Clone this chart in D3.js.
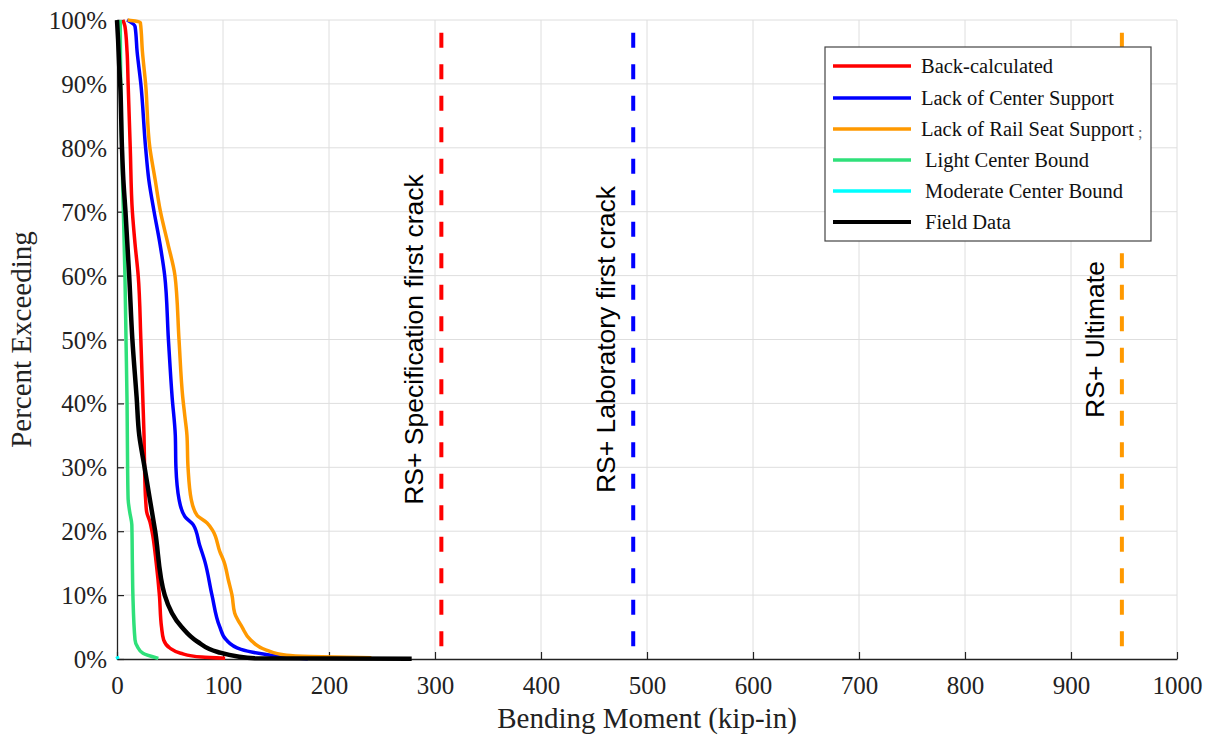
<!DOCTYPE html>
<html>
<head>
<meta charset="utf-8">
<script src="https://cdn.jsdelivr.net/npm/d3@7"></script>
<style>
  body { margin: 0; background: #fff; }
  svg { display: block; }
</style>
</head>
<body>
<svg id="chart" width="1211" height="738"></svg>
<script>
// series: [moment (kip-in), percent exceeding]
const backCalculated = [[5.5,100],[7.5,99],[9.5,95],[10.5,90],[12.5,80],[14.5,70],[17,65],[20,60],[22.5,50],[24.5,40],[25.5,35],[26,30],[27,25],[28,23],[31,21.5],[33,20],[37,15],[40,10],[42,5],[44,3],[50,1.7],[60,0.9],[80,0.3],[102,0.1]];
const lackCenter = [[9.5,100],[17,99],[19,95],[22.5,90],[27,80],[30,75],[35,70],[40.5,65],[45,60],[48.5,50],[52,41],[55,35],[55.6,30],[58.5,25],[64,22.3],[72,21],[78,17.8],[83,15.2],[89.6,10],[97,5],[103,3],[117,1.5],[145,0.6],[165,0.2],[180,0.05]];
const lackRailSeat = [[10,100],[22,99.6],[24,95],[27,90],[31,80],[36,75],[41,70],[48,65],[54.7,60],[58.5,50],[62,41],[64,38],[66,35],[67,30],[70,25],[75.5,22.5],[85,21.3],[90.6,20],[97,16.8],[101,15.2],[105,12.4],[108.5,10],[111,7.2],[118,5],[126,3],[141,1.4],[160,0.6],[182,0.4],[240,0.2]];
const lightCenter = [[3,100],[3.5,90],[4.5,80],[6,70],[7.5,60],[8.5,50],[9.5,40],[10,30],[10.5,25],[12,23],[14,21],[14.5,15],[15,10],[17,3],[19,2],[24.5,0.9],[39,0.1]];
const moderateCenter = [[0,0.4],[1,0]];
const fieldData = [[0,100],[1,97],[2,93],[3,90],[4.7,80],[6,75],[8,70],[11.5,60],[14.5,50],[18.5,41],[21,35],[26,30],[31,25],[36,20],[45,10],[61,5],[76,2.7],[95,1.1],[114,0.4],[130,0.1],[278,0.05]];

const seriesNames = ["Back-calculated", "Lack of Center Support", "Lack of Rail Seat Support", "Light Center Bound", "Moderate Center Bound", "Field Data"];
const seriesColors = ["#ff0000", "#0000ff", "#ff9900", "#2fe07a", "#00ffff", "#000000"];

// reference limits (kip-in)
const limitValues = [306, 487, 948];
const limitLabels = ["RS+ Specification first crack", "RS+ Laboratory first crack", "RS+ Ultimate"];
const limitColors = ["#ff0000", "#0000ff", "#ff9900"];

const xTicks = [0,100,200,300,400,500,600,700,800,900,1000];
const yTicks = [0,10,20,30,40,50,60,70,80,90,100];

const serif = "'Liberation Serif', 'Times New Roman', serif";
const sans = "'Liberation Sans', Arial, sans-serif";

drawChart();

function drawChart(){
    let svg = d3.select("#chart");
    let margin = {top: 20, right: 34, bottom: 79, left: 117};
    let w = 1211 - margin.left - margin.right;
    let h = 738 - margin.top - margin.bottom;

    let x = d3.scaleLinear().domain([0, 1000]).range([0, w]);
    let y = d3.scaleLinear().domain([0, 100]).range([h, 0]);

    let g = svg.append("g").attr("transform", `translate(${margin.left},${margin.top})`);

    // grid
    g.append("g")
      .selectAll("line")
      .data(xTicks.slice(1))
      .enter()
      .append("line")
      .attr("x1", d => x(d)).attr("x2", d => x(d))
      .attr("y1", 0).attr("y2", h)
      .attr("stroke", "#dedede").attr("stroke-width", 1);

    g.append("g")
      .selectAll("line")
      .data(yTicks.slice(1))
      .enter()
      .append("line")
      .attr("x1", 0).attr("x2", w)
      .attr("y1", d => y(d)).attr("y2", d => y(d))
      .attr("stroke", "#dedede").attr("stroke-width", 1);

    // axes, ticks pointing inward
    let xAxis = g.append("g")
      .attr("transform", `translate(0,${h})`)
      .call(d3.axisBottom(x).tickValues(xTicks).tickSize(-7).tickSizeOuter(0).tickPadding(18).tickFormat(d3.format("d")));
    let yAxis = g.append("g")
      .call(d3.axisLeft(y).tickValues(yTicks).tickSize(-7).tickSizeOuter(0).tickPadding(10).tickFormat(d => d + "%"));

    [xAxis, yAxis].forEach(function(a){
        a.select(".domain").attr("stroke", "#222").attr("stroke-width", 1.3);
        a.selectAll(".tick line").attr("stroke", "#222").attr("stroke-width", 1.2);
        a.selectAll(".tick text")
          .attr("font-family", serif)
          .attr("font-size", 25)
          .attr("fill", "#222");
    });
    yAxis.selectAll(".tick text").attr("dy", "0.34em");
    xAxis.selectAll(".tick text").attr("dy", "0.66em");

    // limit lines
    g.append("g")
      .selectAll("line")
      .data(limitValues)
      .enter()
      .append("line")
      .attr("x1", d => x(d)).attr("x2", d => x(d))
      .attr("y1", y(98)).attr("y2", h)
      .attr("stroke", (d, i) => limitColors[i])
      .attr("stroke-width", 4)
      .attr("stroke-dasharray", "15,16.5");

    g.append("g")
      .selectAll("text")
      .data(limitValues)
      .enter()
      .append("text")
      .attr("transform", d => `translate(${x(d) - 18},${y(50)}) rotate(-90)`)
      .attr("text-anchor", "middle")
      .attr("font-family", sans)
      .attr("font-size", 26.5)
      .attr("fill", "#000")
      .text((d, i) => limitLabels[i]);

    // curves, percent is the monotone axis
    let allSeries = [backCalculated, lackCenter, lackRailSeat, lightCenter, moderateCenter, fieldData];
    let line = d3.line()
      .x(d => x(d[0]))
      .y(d => y(d[1]))
      .curve(d3.curveMonotoneY);

    g.append("g")
      .selectAll("path")
      .data(allSeries)
      .enter()
      .append("path")
      .attr("d", d => line(d.slice().sort((a, b) => b[1] - a[1])))
      .attr("fill", "none")
      .attr("stroke", (d, i) => seriesColors[i])
      .attr("stroke-width", (d, i) => i == 5 ? 4.5 : 3.5)
      .attr("stroke-linejoin", "round");

    // axis titles
    svg.append("text")
      .attr("x", margin.left + w / 2)
      .attr("y", 728)
      .attr("text-anchor", "middle")
      .attr("font-family", serif)
      .attr("font-size", 29)
      .attr("fill", "#222")
      .text("Bending Moment (kip-in)");

    svg.append("text")
      .attr("transform", `translate(31,${margin.top + h / 2}) rotate(-90)`)
      .attr("text-anchor", "middle")
      .attr("font-family", serif)
      .attr("font-size", 29)
      .attr("fill", "#222")
      .text("Percent Exceeding");

    drawLegend(svg);
}

function drawLegend(svg){
    let lg = svg.append("g").attr("transform", "translate(825,47)");
    lg.append("rect")
      .attr("width", 326).attr("height", 194)
      .attr("fill", "#fff")
      .attr("stroke", "#444").attr("stroke-width", 1.2);

    let rowY = [19, 51, 82, 113, 144, 175];
    let textX = [96, 96, 96, 100, 100, 100];

    let rows = lg.selectAll(".row")
      .data(seriesNames)
      .enter()
      .append("g")
      .attr("transform", (d, i) => `translate(0,${rowY[i]})`);

    rows.append("line")
      .attr("x1", 8).attr("x2", 86)
      .attr("stroke", (d, i) => seriesColors[i])
      .attr("stroke-width", (d, i) => i == 5 ? 4 : 3.5);

    rows.append("text")
      .attr("x", (d, i) => textX[i])
      .attr("y", 7)
      .attr("font-family", serif)
      .attr("font-size", 20.5)
      .attr("fill", "#111")
      .text(d => d);

    // stray mark after the third entry in the original
    lg.append("text")
      .attr("x", 313).attr("y", 91)
      .attr("font-family", serif)
      .attr("font-size", 16)
      .attr("fill", "#666")
      .text(";");
}
</script>
</body>
</html>
